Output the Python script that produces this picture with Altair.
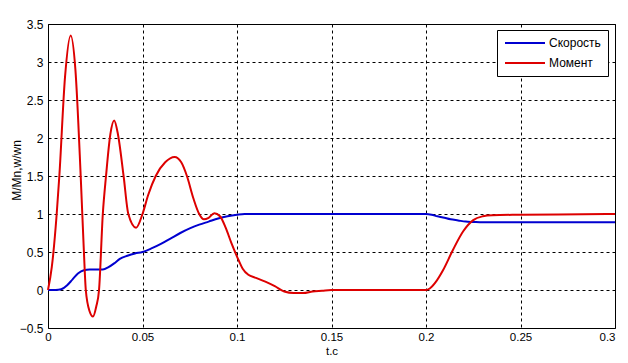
import altair as alt
import pandas as pd

# Скорость (speed), per-unit
speed_t = [0, 0.004, 0.007, 0.010, 0.013, 0.016, 0.019, 0.022, 0.026, 0.029, 0.032, 0.035,
           0.038, 0.042, 0.046, 0.050, 0.055, 0.060, 0.065, 0.070, 0.075, 0.080, 0.085,
           0.090, 0.095, 0.100, 0.104, 0.108, 0.115, 0.150, 0.200, 0.203, 0.206, 0.209,
           0.213, 0.217, 0.221, 0.225, 0.230, 0.250, 0.300]
speed_v = [0, 0, 0.01, 0.06, 0.14, 0.22, 0.26, 0.27, 0.27, 0.27, 0.30, 0.35,
           0.41, 0.45, 0.48, 0.50, 0.55, 0.61, 0.68, 0.75, 0.81, 0.86, 0.90,
           0.94, 0.97, 0.99, 1.0, 1.0, 1.0, 1.0, 1.0, 0.99, 0.97, 0.955,
           0.93, 0.915, 0.90, 0.895, 0.89, 0.89, 0.89]

# Момент (torque), per-unit
torque_t = [0, 0.002, 0.0046, 0.006, 0.009, 0.012, 0.0145, 0.0173, 0.019, 0.020, 0.022,
            0.0238, 0.0255, 0.027, 0.029, 0.0307, 0.033, 0.035, 0.037, 0.040, 0.0425,
            0.0466, 0.050, 0.053, 0.057, 0.062, 0.067, 0.0705, 0.0735, 0.077, 0.080,
            0.0825, 0.085, 0.088, 0.091, 0.094, 0.097, 0.100, 0.103, 0.106, 0.110,
            0.115, 0.120, 0.125, 0.130, 0.135, 0.140, 0.145, 0.150, 0.200, 0.202,
            0.205, 0.209, 0.2143, 0.2196, 0.225, 0.230, 0.235, 0.250, 0.270, 0.300]
torque_v = [0, 0.3, 1.0, 1.5, 2.8, 3.35, 2.9, 1.5, 0.5, 0.0, -0.28,
            -0.35, -0.22, 0.0, 1.0, 1.5, 2.05, 2.23, 2.05, 1.5, 1.0,
            0.82, 1.0, 1.25, 1.5, 1.68, 1.75, 1.68, 1.5, 1.2, 1.0,
            0.93, 0.95, 1.01, 0.97, 0.82, 0.62, 0.44, 0.28, 0.2, 0.16,
            0.11, 0.05, -0.02, -0.04, -0.04, -0.02, -0.01, 0.0, 0.0, 0.02,
            0.1, 0.26, 0.53, 0.77, 0.92, 0.97, 0.985, 0.99, 0.995, 1.0]

series_names = ["Скорость", "Момент"]
series_colors = ["#0000D0", "#DD0000"]

x_ticks = [0, 0.05, 0.1, 0.15, 0.2, 0.25, 0.3]
y_ticks = [-0.5, 0, 0.5, 1, 1.5, 2, 2.5, 3, 3.5]

df = pd.concat([
    pd.DataFrame({"t": speed_t, "v": speed_v, "s": series_names[0]}),
    pd.DataFrame({"t": torque_t, "v": torque_v, "s": series_names[1]}),
])

FONT = "Liberation Sans"

chart = alt.Chart(df).mark_line(strokeWidth=2, interpolate="monotone").encode(
    x=alt.X("t:Q", scale=alt.Scale(domain=[0, 0.3], nice=False),
            axis=alt.Axis(title="t,c", values=x_ticks,
                          format="~g", grid=True, gridDash=[3, 3], gridColor="black",
                          gridOpacity=1, ticks=False, domain=False, labelPadding=3,
                          labelFontSize=11.5, titleFontSize=11.5,
                          labelAlign=alt.ExprRef("datum.value >= 0.3 ? 'right' : 'center'"),
                          titleY=26, titleBaseline="alphabetic", labelFlush=False)),
    y=alt.Y("v:Q", scale=alt.Scale(domain=[-0.5, 3.5], nice=False),
            axis=alt.Axis(title="M/Mn,w/wn", values=y_ticks,
                          format="~g", grid=True, gridDash=[3, 3], gridColor="black",
                          gridOpacity=1, ticks=False, domain=False, labelPadding=5,
                          titleX=-28, titleY=146, titleAngle=270, titleAlign="center",
                          titleBaseline="alphabetic", labelFlush=False)),
    color=alt.Color("s:N", scale=alt.Scale(domain=series_names, range=series_colors),
                    legend=alt.Legend(title=None, orient="none", legendX=449, legendY=6,
                                      fillColor="white", strokeColor="black", padding=7,
                                      symbolType="M-1,0H7", symbolSize=100,
                                      symbolStrokeWidth=2, labelFontSize=12,
                                      labelFont=FONT, labelColor="black", rowPadding=8,
                                      labelOffset=33)),
).properties(
    width=567, height=304,
    autosize=alt.AutoSizeParams(type="none"),
    padding={"left": 40, "top": 16, "right": 5, "bottom": 27},
).configure_view(
    stroke="black", strokeWidth=1
).configure_axis(
    labelFont=FONT, titleFont=FONT, labelFontSize=12, titleFontSize=12,
    labelColor="black", titleColor="black", titleFontWeight="normal"
)

chart.save("out.html", embed_options={"renderer": "svg", "actions": False})
